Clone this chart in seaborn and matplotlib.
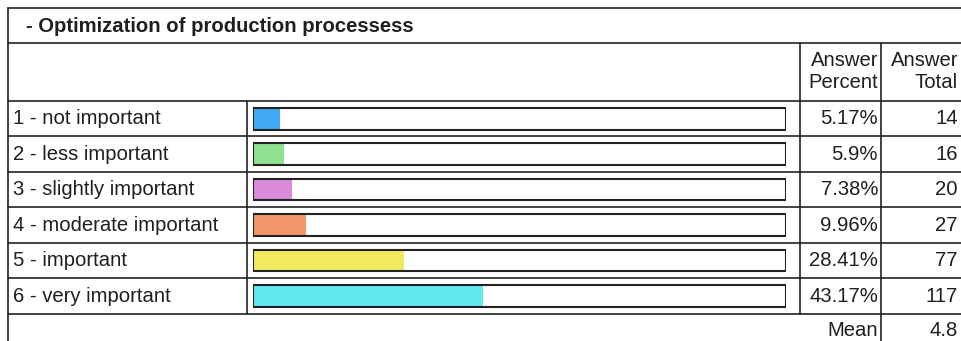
import matplotlib
matplotlib.use("Agg")
import matplotlib.pyplot as plt
import seaborn as sns
import pandas as pd

title = "- Optimization of production processess"
labels = ["1 - not important", "2 - less important", "3 - slightly important",
          "4 - moderate important", "5 - important", "6 - very important"]
percent = [5.17, 5.9, 7.38, 9.96, 28.41, 43.17]
totals = [14, 16, 20, 27, 77, 117]
mean_value = 4.8
colors = ["#3FA9F5", "#8FE08F", "#DA8ADA", "#F4956A", "#F1EA5E", "#63E8F1"]

sns.set_style("white")
plt.rcParams["font.family"] = ["Liberation Sans", "DejaVu Sans"]

W, H = 961, 341
fig = plt.figure(figsize=(W / 100, H / 100), dpi=100)

# table grid drawn in pixel coordinates
ax = fig.add_axes([0, 0, 1, 1])
ax.set_xlim(0, W)
ax.set_ylim(H, 0)
ax.axis("off")

line_kw = dict(color="#222222", lw=1.2)
x_left, x_lab, x_pct, x_tot = 8, 246.7, 800, 880.7
y_top, y_head, y_rows, pitch = 8, 42.7, 101, 35.43
y_end = y_rows + pitch * len(labels)

for y in [y_top, y_head] + [y_rows + i * pitch for i in range(len(labels) + 1)]:
    ax.plot([x_left, W], [y, y], **line_kw)
ax.plot([x_left, x_left], [y_top, H], **line_kw)
ax.plot([x_lab, x_lab], [y_rows, y_end], **line_kw)
ax.plot([x_pct, x_pct], [y_head, y_end], **line_kw)
ax.plot([x_tot, x_tot], [y_head, H], **line_kw)

fs = 14.6
tc = "#1f1f1f"
ax.text(26, 32.3, title, fontsize=fs, fontweight="bold", color=tc, va="baseline")
ax.text(878, 66.5, "Answer", fontsize=fs, color=tc, ha="right", va="baseline")
ax.text(878, 87.5, "Percent", fontsize=fs, color=tc, ha="right", va="baseline")
ax.text(958, 66.5, "Answer", fontsize=fs, color=tc, ha="right", va="baseline")
ax.text(958, 87.5, "Total", fontsize=fs, color=tc, ha="right", va="baseline")

for i, (lab, p, t) in enumerate(zip(labels, percent, totals)):
    yb = y_rows + i * pitch + 23.5
    ax.text(13, yb, lab, fontsize=fs, color=tc, va="baseline")
    ax.text(878, yb, f"{p:g}%", fontsize=fs, color=tc, ha="right", va="baseline")
    ax.text(958, yb, str(t), fontsize=fs, color=tc, ha="right", va="baseline")

ax.text(878, 336.5, "Mean", fontsize=fs, color=tc, ha="right", va="baseline")
ax.text(958, 336.5, f"{mean_value:g}", fontsize=fs, color=tc, ha="right", va="baseline")

# bars
df = pd.DataFrame({"label": labels, "percent": percent, "full": [100] * len(labels)})
bx = fig.add_axes([252.7 / W, (H - y_end) / H, (786 - 252.7) / W, (y_end - y_rows) / H])
sns.barplot(data=df, x="full", y="label", color="white", width=0.61,
            linewidth=0, ax=bx)
sns.barplot(data=df, x="percent", y="label", hue="label", palette=colors,
            legend=False, width=0.61, linewidth=0, saturation=1, ax=bx)
sns.barplot(data=df, x="full", y="label", fill=False, color="#222222",
            width=0.61, linewidth=1.5, ax=bx)
bx.set_xlim(0, 100)
bx.set_ylim(len(labels) - 0.5, -0.5)
bx.axis("off")

fig.savefig("out.png", dpi=100)
